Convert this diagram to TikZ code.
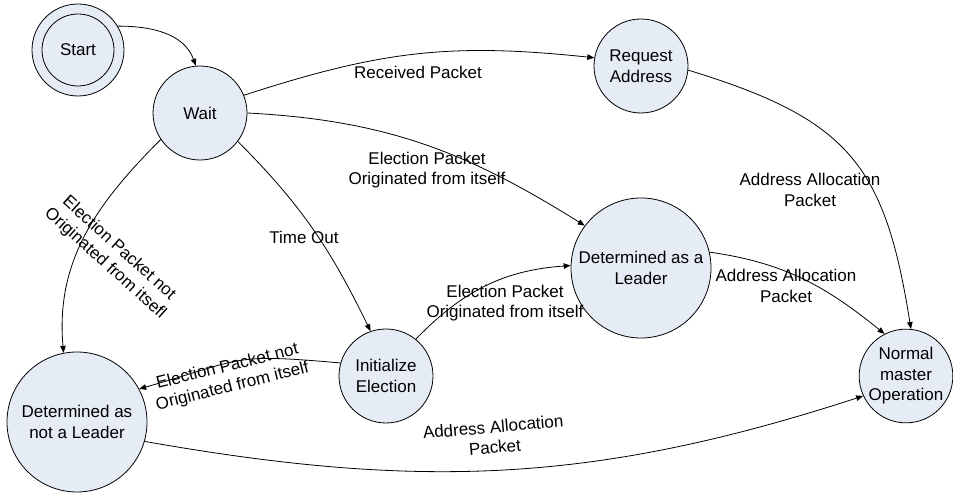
\documentclass[tikz,border=0pt]{standalone}
\usepackage{fontspec}
\setmainfont{Liberation Sans}
\usetikzlibrary{arrows.meta}
\definecolor{statefill}{RGB}{230,236,246}
\tikzset{
  state/.style={circle, draw=black, line width=0.8pt, fill=statefill, inner sep=0pt, align=center,
    font=\fontsize{17}{20.5}\selectfont},
  lbl/.style={align=center, inner sep=0pt, font=\fontsize{17}{20.5}\selectfont},
  edge/.style={draw=black, line width=0.8pt, -{Triangle[length=7pt,width=5.5pt]}}
}
\begin{document}
\begin{tikzpicture}[x=1pt,y=1pt]
\useasboundingbox (0,0) rectangle (953,495);
\node[state, minimum size=92pt] (start) at (78,445) {Start};
\draw[line width=0.8pt] (start.center) circle[radius=36pt];
\node[state, minimum size=94pt] (wait) at (200,382) {Wait};
\node[state, minimum size=94pt] (req) at (641,429) {Request\\Address};
\node[state, minimum size=140pt] (lead) at (641,227) {Determined as a\\Leader};
\node[state, minimum size=94pt] (init) at (386,119) {Initialize\\Election};
\node[state, minimum size=140pt] (notl) at (77,73) {Determined as\\not a Leader};
\node[state, minimum size=93pt] (norm) at (906,119) {Normal\\master\\Operation};

\draw[edge] (start.31) to[out=0,in=110] (wait.95);
\draw[edge] (wait.22) to[out=18,in=174,looseness=1.05] (req.170);
\draw[edge] (wait.0) to[out=-3,in=148] (lead.143);
\draw[edge] (wait.-37) to[out=-45,in=116] (init.109);
\draw[edge] (wait.-146) to[out=-135,in=95] (notl.101);
\draw[edge] (init.164) to[out=175,in=16,looseness=1.4] (notl.28);
\draw[edge] (init.51) to[out=46,in=184] (lead.178);
\draw[edge] (lead.13) to[out=-8,in=141] (norm.117);
\draw[edge] (req.-5) to[out=-17,in=99,looseness=1.25] (norm.84);
\draw[edge] (notl.-16) to[out=-10,in=198] (norm.205);

\node[lbl] (l2) at (418,423) {Received Packet};
\node[lbl] (l3) at (427,325) {Election Packet\\Originated from itself};
\node[lbl] (l4) at (304,258) {Time Out};
\node[lbl, rotate=-42] (l5) at (112,239) {Election Packet not\\Originated from itsefl};
\node[lbl, rotate=14] (l6) at (230,118) {Election Packet not\\Originated from itself};
\node[lbl] (l7) at (505,192) {Election Packet\\Originated from itself};
\node[lbl] (l8) at (786,209) {Address Allocation\\Packet};
\node[lbl] (l9) at (810,305) {Address Allocation\\Packet};
\node[lbl, rotate=5] (l10) at (494,58) {Address Allocation\\Packet};
\end{tikzpicture}
\end{document}
